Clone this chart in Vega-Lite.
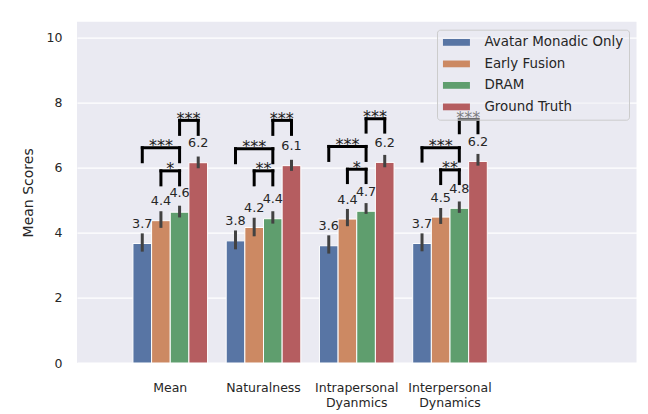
{
  "$schema": "https://vega.github.io/schema/vega-lite/v6.json",
  "autosize": {"type": "none"},
  "padding": {"left": 77, "top": 21.7, "right": 11.5, "bottom": 51},
  "width": 559.5,
  "height": 341.3,
  "background": "white",
  "config": {
    "font": "DejaVu Sans",
    "view": {"fill": "#EAEAF2", "stroke": null},
    "axis": {"domain": false, "ticks": false, "tickSize": 0, "labelColor": "#262626", "titleColor": "#262626", "labelFont": "DejaVu Sans", "titleFont": "DejaVu Sans"}
  },
  "datasets": {
    "bars": [
      {"cat": "Mean", "model": "Avatar Monadic Only", "value": 3.67, "lo": 3.42, "hi": 3.98},
      {"cat": "Mean", "model": "Early Fusion", "value": 4.37, "lo": 4.15, "hi": 4.66},
      {"cat": "Mean", "model": "DRAM", "value": 4.63, "lo": 4.47, "hi": 4.83},
      {"cat": "Mean", "model": "Ground Truth", "value": 6.15, "lo": 5.98, "hi": 6.34},
      {"cat": "Naturalness", "model": "Avatar Monadic Only", "value": 3.75, "lo": 3.49, "hi": 4.07},
      {"cat": "Naturalness", "model": "Early Fusion", "value": 4.16, "lo": 3.89, "hi": 4.46},
      {"cat": "Naturalness", "model": "DRAM", "value": 4.43, "lo": 4.28, "hi": 4.66},
      {"cat": "Naturalness", "model": "Ground Truth", "value": 6.06, "lo": 5.9, "hi": 6.24},
      {"cat": "Intrapersonal Dyanmics", "model": "Avatar Monadic Only", "value": 3.6, "lo": 3.36, "hi": 3.92},
      {"cat": "Intrapersonal Dyanmics", "model": "Early Fusion", "value": 4.42, "lo": 4.2, "hi": 4.73},
      {"cat": "Intrapersonal Dyanmics", "model": "DRAM", "value": 4.66, "lo": 4.58, "hi": 4.91},
      {"cat": "Intrapersonal Dyanmics", "model": "Ground Truth", "value": 6.16, "lo": 6.01, "hi": 6.39},
      {"cat": "Interpersonal Dynamics", "model": "Avatar Monadic Only", "value": 3.67, "lo": 3.43, "hi": 3.98},
      {"cat": "Interpersonal Dynamics", "model": "Early Fusion", "value": 4.48, "lo": 4.27, "hi": 4.76},
      {"cat": "Interpersonal Dynamics", "model": "DRAM", "value": 4.75, "lo": 4.61, "hi": 4.96},
      {"cat": "Interpersonal Dynamics", "model": "Ground Truth", "value": 6.19, "lo": 6.06, "hi": 6.42}
    ],
    "brackets": [
      {"cat": "Mean", "from": "Early Fusion", "to": "DRAM", "pair": "Early Fusion vs DRAM", "top": 5.9, "bottom": 5.47, "stars": "*"},
      {"cat": "Mean", "from": "Avatar Monadic Only", "to": "DRAM", "pair": "Avatar Monadic Only vs DRAM", "top": 6.61, "bottom": 6.18, "stars": "***"},
      {"cat": "Mean", "from": "DRAM", "to": "Ground Truth", "pair": "DRAM vs Ground Truth", "top": 7.45, "bottom": 7.02, "stars": "***"},
      {"cat": "Naturalness", "from": "Early Fusion", "to": "DRAM", "pair": "Early Fusion vs DRAM", "top": 5.9, "bottom": 5.47, "stars": "**"},
      {"cat": "Naturalness", "from": "Avatar Monadic Only", "to": "DRAM", "pair": "Avatar Monadic Only vs DRAM", "top": 6.58, "bottom": 6.15, "stars": "***"},
      {"cat": "Naturalness", "from": "DRAM", "to": "Ground Truth", "pair": "DRAM vs Ground Truth", "top": 7.45, "bottom": 7.02, "stars": "***"},
      {"cat": "Intrapersonal Dyanmics", "from": "Early Fusion", "to": "DRAM", "pair": "Early Fusion vs DRAM", "top": 5.95, "bottom": 5.54, "stars": "*"},
      {"cat": "Intrapersonal Dyanmics", "from": "Avatar Monadic Only", "to": "DRAM", "pair": "Avatar Monadic Only vs DRAM", "top": 6.65, "bottom": 6.22, "stars": "***"},
      {"cat": "Intrapersonal Dyanmics", "from": "DRAM", "to": "Ground Truth", "pair": "DRAM vs Ground Truth", "top": 7.5, "bottom": 7.09, "stars": "***"},
      {"cat": "Interpersonal Dynamics", "from": "Early Fusion", "to": "DRAM", "pair": "Early Fusion vs DRAM", "top": 5.93, "bottom": 5.51, "stars": "**"},
      {"cat": "Interpersonal Dynamics", "from": "Avatar Monadic Only", "to": "DRAM", "pair": "Avatar Monadic Only vs DRAM", "top": 6.61, "bottom": 6.2, "stars": "***"},
      {"cat": "Interpersonal Dynamics", "from": "DRAM", "to": "Ground Truth", "pair": "DRAM vs Ground Truth", "top": 7.48, "bottom": 7.07, "stars": "***"}
    ]
  },
  "layer": [
    {
      "data": {"name": "bars"},
      "mark": {"type": "bar", "stroke": "white", "strokeWidth": 1},
      "encoding": {
        "x": {"field": "cat", "type": "nominal", "sort": null,
          "scale": {"domain": ["Mean", "Naturalness", "Intrapersonal Dyanmics", "Interpersonal Dynamics", " "], "paddingInner": 0, "paddingOuter": 0.5},
          "axis": {"title": null, "labelAngle": 0, "labelExpr": "split(datum.label, ' ')", "labelFontSize": 12.5, "labelLineHeight": 15, "labelPadding": 18, "grid": false}},
        "xOffset": {"field": "model", "type": "nominal",
          "scale": {"domain": ["Avatar Monadic Only", "Early Fusion", "DRAM", "Ground Truth"], "paddingInner": 0, "paddingOuter": 0.5}},
        "y": {"field": "value", "type": "quantitative",
          "scale": {"domain": [0, 10.48], "nice": false, "zero": true},
          "axis": {"title": "Mean Scores", "values": [0, 2, 4, 6, 8, 10], "labelFontSize": 12.5, "labelPadding": 15, "titleFontSize": 14, "titleFontWeight": "normal", "titlePadding": 11, "grid": true, "gridColor": "white", "gridWidth": 1.3}},
        "color": {"field": "model", "type": "nominal",
          "scale": {"domain": ["Avatar Monadic Only", "Early Fusion", "DRAM", "Ground Truth"], "range": ["#5875A4", "#CC8963", "#5F9E6E", "#B55D60"]},
          "legend": {"title": null, "orient": "top-right", "offset": 7.5, "fillColor": "rgba(234,234,242,0.45)", "strokeColor": "#cccccc", "cornerRadius": 3, "padding": 5.7, "symbolType": "M-2,-0.5H2V0.5H-2Z", "symbolSize": 182, "symbolOffset": 6.75, "symbolStrokeWidth": 0, "labelOffset": 21, "labelFontSize": 13.4, "labelColor": "#262626", "labelFont": "DejaVu Sans", "rowPadding": 7.5, "labelLimit": 300}}
      }
    },
    {
      "data": {"name": "bars"},
      "mark": {"type": "rule", "color": "#424242", "strokeWidth": 3},
      "encoding": {
        "x": {"field": "cat", "type": "nominal", "sort": null},
        "xOffset": {"field": "model", "type": "nominal"},
        "y": {"field": "lo", "type": "quantitative"},
        "y2": {"field": "hi"}
      }
    },
    {
      "data": {"name": "bars"},
      "mark": {"type": "text", "fontSize": 12.8, "color": "#262626", "align": "center", "baseline": "alphabetic", "dy": -15.5},
      "encoding": {
        "x": {"field": "cat", "type": "nominal", "sort": null},
        "xOffset": {"field": "model", "type": "nominal"},
        "y": {"field": "value", "type": "quantitative"},
        "text": {"field": "value", "type": "quantitative", "format": ".1f"}
      }
    },
    {
      "data": {"name": "brackets"},
      "transform": [{"fold": ["from", "to"], "as": ["end", "model"]}],
      "mark": {"type": "rule", "color": "black", "strokeWidth": 3, "strokeCap": "square"},
      "encoding": {
        "x": {"field": "cat", "type": "nominal", "sort": null},
        "xOffset": {"field": "model", "type": "nominal"},
        "y": {"field": "bottom", "type": "quantitative"},
        "y2": {"field": "top"}
      }
    },
    {
      "data": {"name": "brackets"},
      "transform": [{"fold": ["from", "to"], "as": ["end", "model"]}],
      "mark": {"type": "line", "color": "black", "strokeWidth": 3, "strokeCap": "square"},
      "encoding": {
        "x": {"field": "cat", "type": "nominal", "sort": null},
        "xOffset": {"field": "model", "type": "nominal"},
        "y": {"field": "top", "type": "quantitative"},
        "detail": [{"field": "cat", "type": "nominal"}, {"field": "pair", "type": "nominal"}],
        "order": {"field": "end", "type": "nominal"}
      }
    },
    {
      "data": {"name": "brackets"},
      "transform": [{"filter": "datum.pair == 'Early Fusion vs DRAM'"}],
      "mark": {"type": "text", "fontSize": 16, "fill": "#1a1a1a", "align": "center", "baseline": "alphabetic", "dy": 3.3},
      "encoding": {
        "x": {"field": "cat", "type": "nominal", "sort": null},
        "y": {"field": "top", "type": "quantitative"},
        "text": {"field": "stars"}
      }
    },
    {
      "data": {"name": "brackets"},
      "transform": [{"filter": "datum.pair == 'Avatar Monadic Only vs DRAM'"}],
      "mark": {"type": "text", "fontSize": 16, "fill": "#1a1a1a", "align": "center", "baseline": "alphabetic", "dy": 3.3},
      "encoding": {
        "x": {"field": "cat", "type": "nominal", "sort": null},
        "xOffset": {"datum": "Early Fusion"},
        "y": {"field": "top", "type": "quantitative"},
        "text": {"field": "stars"}
      }
    },
    {
      "data": {"name": "brackets"},
      "transform": [{"filter": "datum.pair == 'DRAM vs Ground Truth'"}],
      "mark": {"type": "text", "fontSize": 16, "fill": "#1a1a1a", "align": "center", "baseline": "alphabetic", "dy": 3.3, "dx": 9},
      "encoding": {
        "x": {"field": "cat", "type": "nominal", "sort": null},
        "xOffset": {"datum": "DRAM"},
        "y": {"field": "top", "type": "quantitative"},
        "text": {"field": "stars"}
      }
    }
  ]
}
